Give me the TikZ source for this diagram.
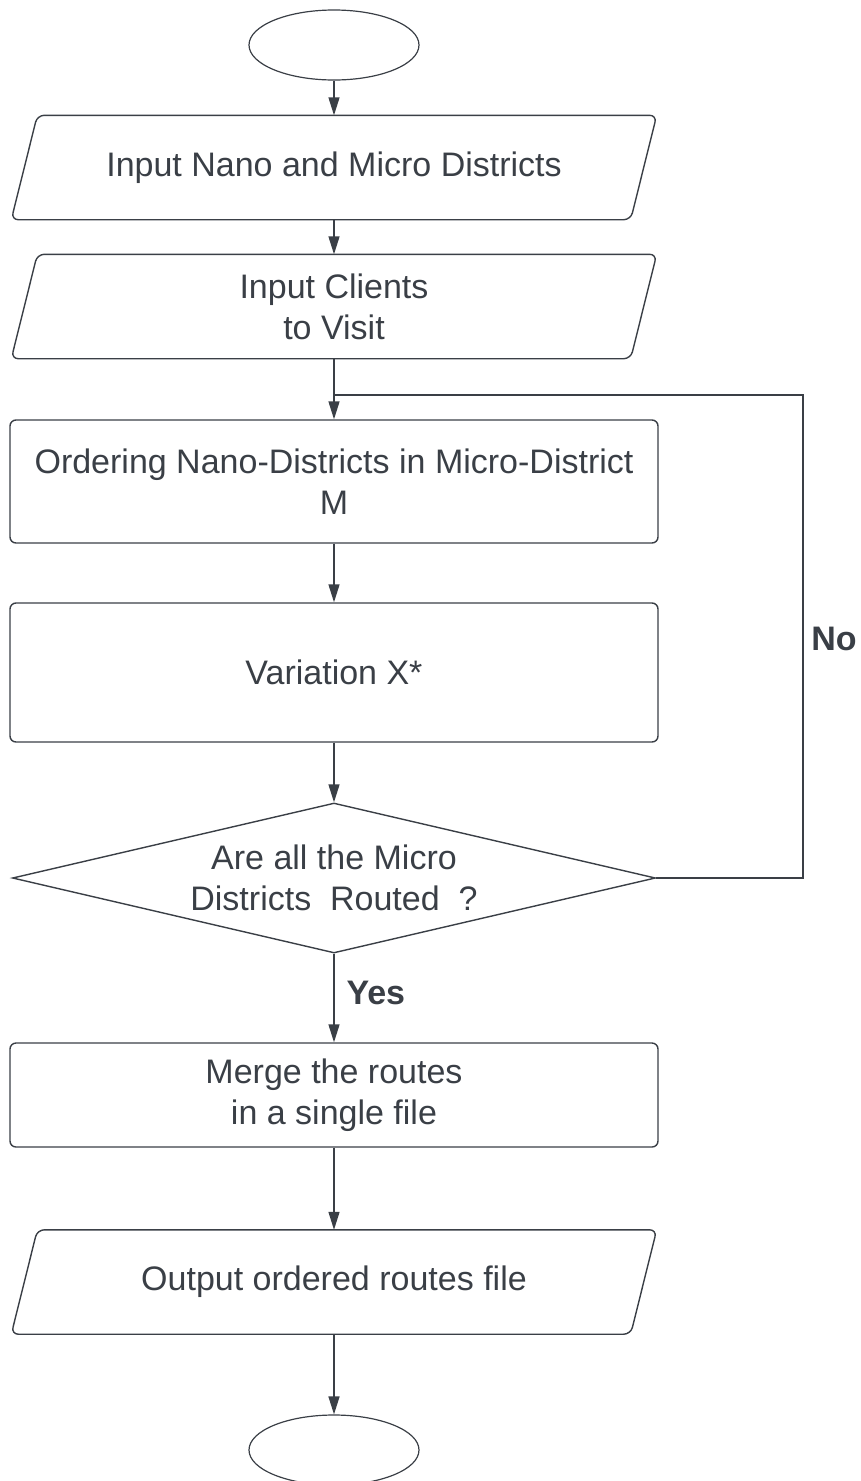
\documentclass[tikz,border=0pt]{standalone}
\usepackage{fontspec}
\setmainfont{Liberation Sans}
\usetikzlibrary{shapes.geometric,arrows.meta}
\definecolor{ink}{RGB}{58,63,70}

\begin{document}
\begin{tikzpicture}[x=1pt, y=-1pt,
          every node/.style = {align=center, text=ink,
          font=\fontsize{34}{41}\selectfont},
          >={Triangle[length=18pt,width=11pt]}]
          \tikzstyle{term}=[draw=ink, line width=1.2pt, ellipse, minimum width=170pt, minimum height=70pt]
          \tikzstyle{io}=[rectangle, minimum width=645pt, minimum height=104pt]
          \tikzstyle{proc}=[draw=ink, line width=1.4pt, rectangle, rounded corners=6pt, minimum width=648pt]
          \tikzstyle{decide}=[draw=ink, line width=1.4pt, diamond, shape aspect=4.3, inner sep=0pt,
                minimum width=643pt, minimum height=150pt]
          \tikzstyle{flow}=[draw=ink, line width=1.4pt]
          \tikzstyle{answer}=[font=\fontsize{34}{41}\selectfont\bfseries]
        \useasboundingbox (0,0) rectangle (861,1481);
        % blocks
        \node[term] (start) at (334,45) {};
        \node[io] (nodes) at (334,167.5) {Input Nano and Micro Districts};
        \node[io] (clients) at (334,306.5) {Input Clients\\to Visit};
        \node[proc, minimum height=123pt] (order) at (334,481.5) {Ordering Nano-Districts in Micro-District\\M};
        \node[proc, minimum height=139pt] (vary) at (334,672.5) {Variation X*};
        \node[decide] (routed) at (334,878) {Are all the Micro\\Districts\ \ Routed\ \ ?};
        \node[proc, minimum height=104pt] (merge) at (334,1095) {Merge the routes\\in a single file};
        \node[io] (output) at (334,1282) {Output ordered routes file};
        \node[term] (stop) at (334,1450) {};
        % slanted data boxes
        \foreach \b in {nodes, clients, output}
          \draw[flow, rounded corners=7pt] ([xshift=26pt]\b.north west) -- (\b.north east)
                -- ([xshift=-26pt]\b.south east) -- (\b.south west) -- cycle;
        % answers
        \node[answer, anchor=west] (yes) at (343,993) {Yes};
        \node[answer] (no) at (834,639) {No};
        % loop back
        \coordinate (corner) at (803,395);
        \coordinate (joint) at (334,395);
        % arrows
        \draw[flow, ->] (start) -- (nodes);
        \draw[flow, ->] (nodes) -- (clients);
        \draw[flow, ->] (clients) -- (order);
        \draw[flow, ->] (order) -- (vary);
        \draw[flow, ->] (vary) -- (routed);
        \draw[flow, ->] (routed) -- (merge);
        \draw[flow, ->] (merge) -- (output);
        \draw[flow, ->] (output) -- (stop);
        \draw[flow] (routed.east) -| (corner) -- (joint);
      \end{tikzpicture}
\end{document}
